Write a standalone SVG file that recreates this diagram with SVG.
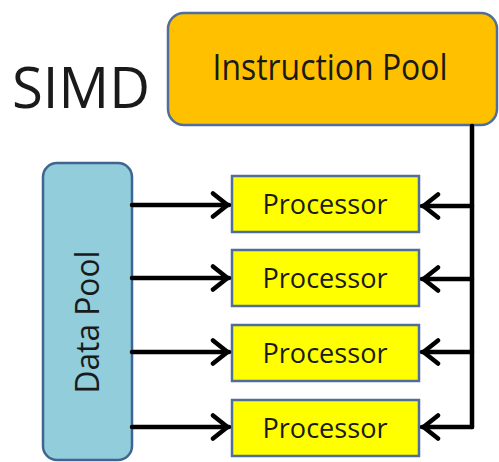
<svg xmlns="http://www.w3.org/2000/svg" width="499" height="462" viewBox="0 0 499 462">
  <style>
    .lbl { font-family: "Open Sans", "Liberation Sans", sans-serif; fill: #1a1a1a; text-anchor: middle; }
    .proc rect { fill: #FFFF00; stroke: #4F6E9C; stroke-width: 2.5; }
    .wire { fill: none; stroke: #000; stroke-width: 4.5; stroke-linecap: round; stroke-linejoin: round; }
  </style>
  <defs>
    <marker id="chev" viewBox="0 0 20 28" refX="19" refY="14" markerWidth="20" markerHeight="28" markerUnits="userSpaceOnUse" orient="auto">
      <path d="M3,2.5 L17.5,14 L3,25.5" fill="none" stroke="#000" stroke-width="4.5" stroke-linecap="round" stroke-linejoin="round"/>
    </marker>
  </defs>
  <rect width="499" height="462" fill="#ffffff"/>

  <text id="title" class="lbl" x="81" y="108" font-size="57" textLength="138" lengthAdjust="spacingAndGlyphs">SIMD</text>

  <g id="instruction-pool">
    <rect x="168" y="13" width="329" height="112" rx="16" fill="#FFC000" stroke="#4F6E9C" stroke-width="2.5"/>
    <text class="lbl" x="330" y="80" font-size="36" textLength="235" lengthAdjust="spacingAndGlyphs">Instruction Pool</text>
  </g>

  <g id="data-pool">
    <rect x="43" y="163" width="89" height="297" rx="14" fill="#92CDDC" stroke="#3F6590" stroke-width="2.5"/>
    <text class="lbl" transform="translate(99,322) rotate(-90)" x="0" y="0" font-size="32" textLength="143" lengthAdjust="spacingAndGlyphs">Data Pool</text>
  </g>

  <g id="processor-1" class="proc">
    <rect x="232" y="176" width="187" height="56"/>
    <text class="lbl" x="325" y="214" font-size="27" textLength="125" lengthAdjust="spacingAndGlyphs">Processor</text>
  </g>
  <g id="processor-2" class="proc">
    <rect x="232" y="250" width="187" height="56"/>
    <text class="lbl" x="325" y="288" font-size="27" textLength="125" lengthAdjust="spacingAndGlyphs">Processor</text>
  </g>
  <g id="processor-3" class="proc">
    <rect x="232" y="325" width="187" height="56"/>
    <text class="lbl" x="325" y="363" font-size="27" textLength="125" lengthAdjust="spacingAndGlyphs">Processor</text>
  </g>
  <g id="processor-4" class="proc">
    <rect x="232" y="400" width="187" height="56"/>
    <text class="lbl" x="325" y="438" font-size="27" textLength="125" lengthAdjust="spacingAndGlyphs">Processor</text>
  </g>

  <g id="connectors">
    <!-- data pool to each processor -->
    <path class="wire" d="M132,205 H229" marker-end="url(#chev)"/>
    <path class="wire" d="M132,278 H229" marker-end="url(#chev)"/>
    <path class="wire" d="M132,352 H229" marker-end="url(#chev)"/>
    <path class="wire" d="M132,427 H229" marker-end="url(#chev)"/>
    <!-- instruction bus down the right side -->
    <path class="wire" d="M472,126 V427"/>
    <path class="wire" d="M472,206 H422" marker-end="url(#chev)"/>
    <path class="wire" d="M472,279 H422" marker-end="url(#chev)"/>
    <path class="wire" d="M472,352 H422" marker-end="url(#chev)"/>
    <path class="wire" d="M472,427 H422" marker-end="url(#chev)"/>
  </g>
</svg>
